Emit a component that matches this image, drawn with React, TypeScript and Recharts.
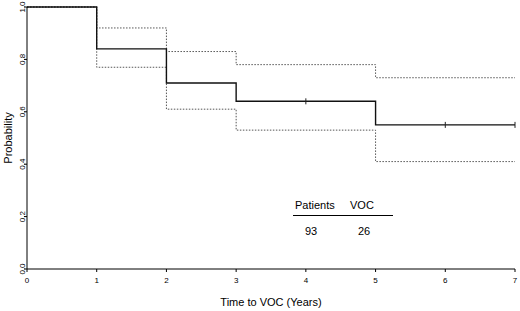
import * as React from 'react'
import { ComposedChart, Line, Scatter, XAxis, YAxis, Label } from 'recharts'

// Kaplan-Meier estimate with 95% confidence band
const years = [0, 1, 2, 3, 4, 5, 6, 7]
const survival = [1.0, 0.84, 0.71, 0.64, 0.64, 0.55, 0.55, 0.55]
const upperCI = [1.0, 0.92, 0.83, 0.78, 0.78, 0.73, 0.73, 0.73]
const lowerCI = [1.0, 0.77, 0.61, 0.53, 0.53, 0.41, 0.41, 0.41]

// censored observations (small vertical marks)
const censoredYears = [4, 6, 7]
const censoredValues = [0.64, 0.55, 0.55]

const yTicks = [0, 0.2, 0.4, 0.6, 0.8, 1.0]

const tableHeader = ['Patients', 'VOC']
const tableRow = ['93', '26']

const FONT = '"Liberation Sans", Arial, sans-serif'

const YTick = (props: any) => {
  const { y, payload } = props
  return (
    <text
      transform={`translate(25,${y}) rotate(-90)`}
      textAnchor="middle"
      fontSize={8}
      fill="#000"
      fontFamily={FONT}
    >
      {Number(payload.value).toFixed(1)}
    </text>
  )
}

const CensorMark = (props: any) => {
  const { cx, cy } = props
  return <line x1={cx} x2={cx} y1={cy - 3} y2={cy + 3} stroke="#222" strokeWidth={1} />
}

export default function App() {
  const data = years.map((year, i) => ({
    year,
    s: survival[i],
    u: upperCI[i],
    l: lowerCI[i],
  }))
  const censorData = censoredYears.map((year, i) => ({ year, s: censoredValues[i] }))

  return (
    <div
      style={{
        position: 'absolute',
        left: 0,
        top: 0,
        width: 520,
        height: 311,
        background: '#fff',
        fontFamily: FONT,
      }}
    >
      <ComposedChart
        width={520}
        height={311}
        data={data}
        margin={{ top: 7, right: 5, bottom: 0, left: 0 }}
      >
        <XAxis
          dataKey="year"
          type="number"
          domain={[0, 7]}
          ticks={years}
          interval={0}
          height={42}
          tickSize={3}
          tickMargin={5}
          stroke="#000"
          tick={{ fontSize: 8, fill: '#000', fontFamily: FONT }}
        >
          <Label
            value="Time to VOC (Years)"
            position="insideBottom"
            offset={5}
            fontSize={11}
            fill="#000"
            fontFamily={FONT}
          />
        </XAxis>
        <YAxis
          type="number"
          domain={[0, 1]}
          ticks={yTicks}
          interval={0}
          width={27}
          tickSize={3}
          stroke="#000"
          tick={<YTick />}
        >
          <Label
            content={() => (
              <text
                x={12}
                y={138}
                transform="rotate(-90 12 138)"
                textAnchor="middle"
                fontSize={11}
                fill="#000"
                fontFamily={FONT}
              >
                Probability
              </text>
            )}
          />
        </YAxis>
        <Line
          dataKey="u"
          type="stepAfter"
          stroke="#555"
          strokeWidth={1}
          strokeDasharray="1.5 1.5"
          dot={false}
          isAnimationActive={false}
        />
        <Line
          dataKey="l"
          type="stepAfter"
          stroke="#555"
          strokeWidth={1}
          strokeDasharray="1.5 1.5"
          dot={false}
          isAnimationActive={false}
        />
        <Line
          dataKey="s"
          type="stepAfter"
          stroke="#111"
          strokeWidth={1.4}
          dot={false}
          isAnimationActive={false}
        />
        <Scatter
          data={censorData}
          dataKey="s"
          shape={<CensorMark />}
          isAnimationActive={false}
        />
      </ComposedChart>
      <svg
        width={520}
        height={311}
        style={{ position: 'absolute', left: 0, top: 0, pointerEvents: 'none' }}
      >
        <g fontFamily={FONT} fontSize={11} fill="#000">
          <text x={295} y={209}>{tableHeader[0]}</text>
          <text x={350} y={209}>{tableHeader[1]}</text>
          <line x1={293} x2={393} y1={215.5} y2={215.5} stroke="#000" strokeWidth={1} />
          <text x={311} y={235} textAnchor="middle">{tableRow[0]}</text>
          <text x={364} y={235} textAnchor="middle">{tableRow[1]}</text>
        </g>
      </svg>
    </div>
  )
}
